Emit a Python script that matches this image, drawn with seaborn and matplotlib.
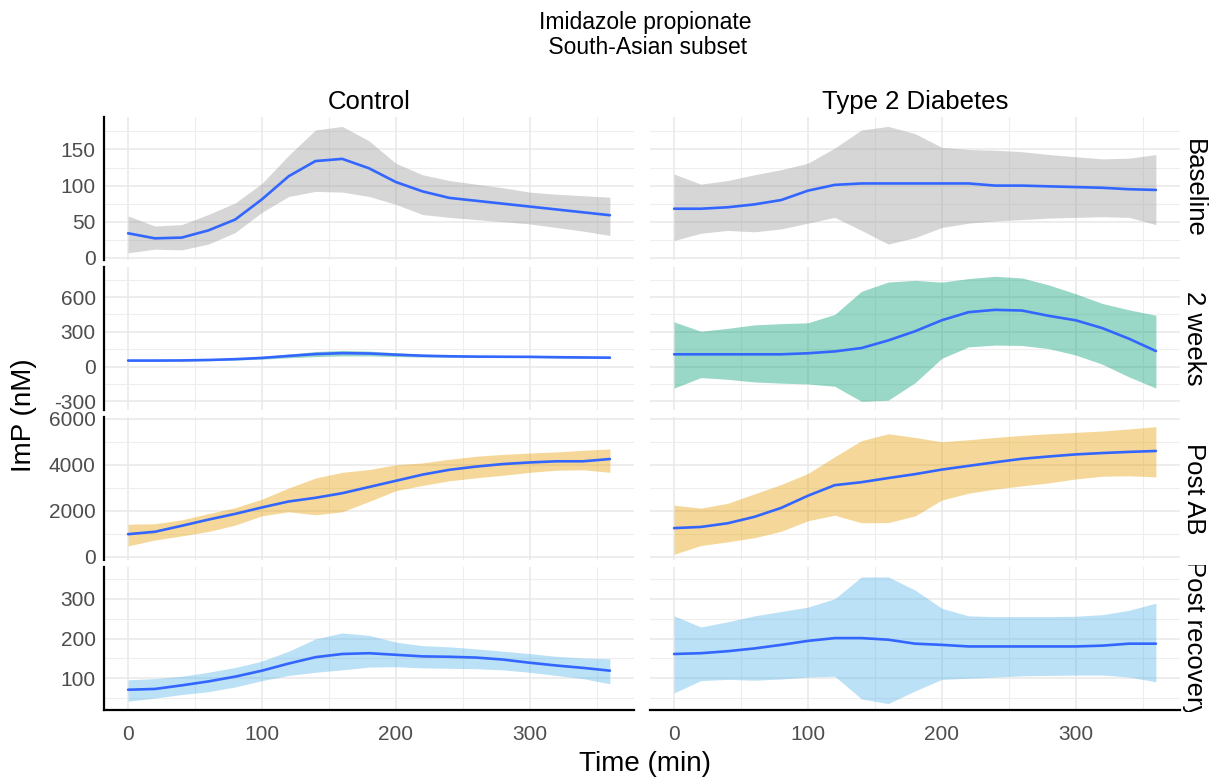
import numpy as np
import pandas as pd
import matplotlib
matplotlib.use("Agg")
import matplotlib.pyplot as plt
from matplotlib.patches import Rectangle
import seaborn as sns

# time points (min)
time = [0, 20, 40, 60, 80, 100, 120, 140, 160, 180, 200, 220, 240, 260, 280, 300, 320, 340, 360]

groups = ["Control", "Type 2 Diabetes"]
visits = ["Baseline", "2 weeks", "Post AB", "Post recovery"]

# Control
ctrl_base_mean = [34, 27, 28, 38, 53, 81, 113, 134, 137, 124, 105, 92, 83, 79, 75, 71, 67, 63, 59]
ctrl_base_hi = [58, 44, 46, 60, 76, 103, 142, 177, 182, 162, 131, 115, 107, 102, 97, 91, 88, 86, 84]
ctrl_base_lo = [7, 12, 11, 19, 35, 63, 85, 92, 91, 85, 74, 60, 56, 53, 50, 47, 42, 37, 31]

ctrl_2w_mean = [52, 52, 53, 57, 64, 75, 92, 108, 116, 113, 103, 94, 89, 86, 85, 84, 81, 79, 77]
ctrl_2w_hi = [58, 57, 58, 63, 72, 86, 108, 130, 140, 134, 120, 106, 98, 94, 92, 90, 88, 86, 85]
ctrl_2w_lo = [46, 47, 48, 51, 56, 64, 76, 86, 92, 92, 86, 82, 80, 78, 78, 78, 74, 72, 69]

ctrl_ab_mean = [975, 1080, 1340, 1610, 1860, 2140, 2400, 2560, 2760, 3030, 3300, 3570, 3780, 3920, 4030, 4100, 4150, 4150, 4250]
ctrl_ab_hi = [1410, 1430, 1600, 1870, 2130, 2500, 2990, 3420, 3670, 3790, 4000, 4080, 4240, 4370, 4450, 4510, 4560, 4630, 4690]
ctrl_ab_lo = [465, 720, 900, 1090, 1370, 1775, 1950, 1820, 1950, 2400, 2870, 3100, 3300, 3430, 3540, 3670, 3760, 3780, 3670]

ctrl_rec_mean = [71, 73, 82, 92, 104, 119, 137, 153, 161, 163, 159, 155, 154, 152, 147, 139, 132, 126, 119]
ctrl_rec_hi = [96, 99, 105, 115, 127, 143, 168, 199, 214, 208, 191, 182, 179, 174, 168, 162, 155, 151, 149]
ctrl_rec_lo = [42, 50, 59, 66, 78, 94, 107, 115, 121, 128, 129, 126, 125, 124, 121, 115, 107, 99, 86]

# Type 2 Diabetes
t2d_base_mean = [68, 68, 70, 74, 80, 93, 101, 103, 103, 103, 103, 103, 100, 100, 99, 98, 97, 95, 94]
t2d_base_hi = [116, 102, 107, 115, 122, 131, 152, 177, 182, 172, 153, 150, 149, 147, 143, 140, 137, 138, 143]
t2d_base_lo = [24, 34, 38, 36, 40, 48, 56, 38, 19, 28, 42, 48, 51, 53, 55, 56, 57, 56, 46]

t2d_2w_mean = [106, 106, 106, 106, 106, 115, 131, 160, 226, 305, 400, 470, 490, 484, 438, 400, 332, 240, 134]
t2d_2w_hi = [386, 305, 330, 360, 371, 378, 450, 650, 730, 745, 729, 760, 780, 765, 705, 629, 545, 490, 443]
t2d_2w_lo = [-186, -95, -110, -133, -143, -150, -170, -300, -290, -140, 71, 170, 186, 182, 155, 100, 20, -90, -186]

t2d_ab_mean = [1240, 1290, 1450, 1730, 2120, 2650, 3110, 3240, 3420, 3590, 3790, 3950, 4110, 4260, 4360, 4450, 4510, 4560, 4600]
t2d_ab_hi = [2240, 2110, 2320, 2730, 3140, 3620, 4350, 5050, 5350, 5190, 5000, 5090, 5190, 5280, 5350, 5410, 5470, 5560, 5660]
t2d_ab_lo = [100, 480, 640, 820, 1100, 1560, 1800, 1470, 1480, 1770, 2460, 2760, 2940, 3080, 3210, 3380, 3500, 3520, 3470]

t2d_rec_mean = [161, 163, 168, 175, 184, 194, 201, 201, 197, 187, 184, 180, 180, 180, 180, 180, 182, 187, 187]
t2d_rec_hi = [257, 229, 242, 257, 268, 279, 300, 355, 355, 322, 276, 257, 255, 255, 255, 256, 260, 271, 289]
t2d_rec_lo = [63, 94, 97, 95, 98, 103, 105, 48, 36, 68, 97, 100, 103, 106, 107, 108, 108, 103, 91]

fill_colors = ["#999999", "#009E73", "#E69F00", "#56B4E9"]

series = {
    ("Control", "Baseline"): (ctrl_base_mean, ctrl_base_lo, ctrl_base_hi),
    ("Control", "2 weeks"): (ctrl_2w_mean, ctrl_2w_lo, ctrl_2w_hi),
    ("Control", "Post AB"): (ctrl_ab_mean, ctrl_ab_lo, ctrl_ab_hi),
    ("Control", "Post recovery"): (ctrl_rec_mean, ctrl_rec_lo, ctrl_rec_hi),
    ("Type 2 Diabetes", "Baseline"): (t2d_base_mean, t2d_base_lo, t2d_base_hi),
    ("Type 2 Diabetes", "2 weeks"): (t2d_2w_mean, t2d_2w_lo, t2d_2w_hi),
    ("Type 2 Diabetes", "Post AB"): (t2d_ab_mean, t2d_ab_lo, t2d_ab_hi),
    ("Type 2 Diabetes", "Post recovery"): (t2d_rec_mean, t2d_rec_lo, t2d_rec_hi),
}

rows = []
for (g, v), (m, lo, hi) in series.items():
    for t, a, b, c in zip(time, m, lo, hi):
        rows.append({"group": g, "visit": v, "time": t, "mean": a, "lo": b, "hi": c})
df = pd.DataFrame(rows)

# per-row y scales
ylims = [(-3, 195), (-375, 860), (-150, 6080), (20, 380)]
yticks = [[0, 50, 100, 150], [-300, 0, 300, 600], [0, 2000, 4000, 6000], [100, 200, 300]]
yminor = [[25, 75, 125, 175], [-150, 150, 450, 750], [1000, 3000, 5000], [50, 150, 250, 350]]

sns.set_theme(style="white")
plt.rcParams["font.family"] = ["Liberation Sans", "DejaVu Sans"]
plt.rcParams["axes.unicode_minus"] = False

W, H = 1220, 780
fig = plt.figure(figsize=(W / 100, H / 100), dpi=100)

col_x = [104, 650]
col_w = 530
row_top = 117
row_h = 143
row_step = 150

for i, v in enumerate(visits):
    top = row_top + i * row_step
    for j, g in enumerate(groups):
        ax = fig.add_axes([col_x[j] / W, 1 - (top + row_h) / H, col_w / W, row_h / H])
        sub = df[(df["group"] == g) & (df["visit"] == v)]
        ax.fill_between(sub["time"], sub["lo"], sub["hi"], color=fill_colors[i],
                        alpha=0.4, linewidth=0, zorder=2)
        sns.lineplot(data=sub, x="time", y="mean", ax=ax, color="#3366FF",
                     linewidth=1.9, zorder=3)
        ax.set_xlim(-18, 378)
        ax.set_ylim(*ylims[i])
        ax.set_xticks([0, 100, 200, 300])
        ax.set_xticks([50, 150, 250, 350], minor=True)
        ax.set_yticks(yticks[i])
        ax.set_yticks(yminor[i], minor=True)
        ax.grid(which="major", color="#E8E8E8", linewidth=1.1, zorder=0)
        ax.grid(which="minor", color="#EEEEEE", linewidth=0.8, zorder=0)
        ax.set_axisbelow(True)
        ax.tick_params(which="both", length=0, labelsize=15, labelcolor="#4D4D4D")
        ax.tick_params(axis="y", pad=6)
        ax.tick_params(axis="x", pad=11)
        ax.set_xlabel("")
        ax.set_ylabel("")
        for s in ax.spines.values():
            s.set_visible(False)
        if j == 0:
            ax.spines["left"].set_visible(True)
            ax.spines["left"].set_color("black")
            ax.spines["left"].set_linewidth(1.6)
        else:
            ax.set_yticklabels([])
        if i == 3:
            ax.spines["bottom"].set_visible(True)
            ax.spines["bottom"].set_color("black")
            ax.spines["bottom"].set_linewidth(1.6)
        else:
            ax.set_xticklabels([])
        if i == 0:
            ax.set_title(g, fontsize=18.5, color="black", pad=6)
        if j == 1:
            # row strip label, clipped to the strip like ggplot
            txt = fig.text((col_x[1] + col_w + 14) / W, 1 - (top + row_h / 2) / H, v,
                           rotation=270, ha="center", va="center", fontsize=18.5,
                           color="black")
            clip = Rectangle(((col_x[1] + col_w) / W, 1 - (top + row_h + 2) / H),
                             40 / W, (row_h + 4) / H, transform=fig.transFigure)
            txt.set_clip_path(clip)

fig.text(645 / W, 1 - 35 / H, "Imidazole propionate\n South-Asian subset",
         ha="center", va="center", fontsize=16.5, color="black", linespacing=1.15)
fig.text(24 / W, 1 - 415 / H, "ImP (nM)", rotation=90, ha="center", va="center",
         fontsize=20, color="black")
fig.text(645 / W, 1 - 764 / H, "Time (min)", ha="center", va="center",
         fontsize=20, color="black")

fig.savefig("out.png", dpi=100, facecolor="white")
